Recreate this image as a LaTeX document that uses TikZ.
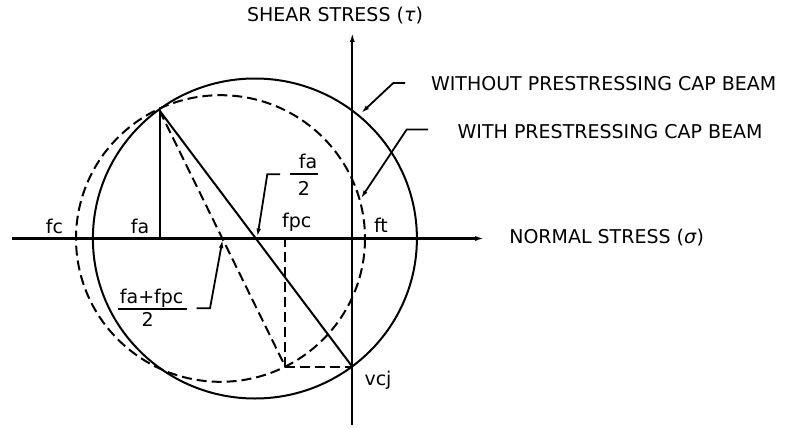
\documentclass[tikz,border=0pt]{standalone}
\usepackage{fontspec}
\setmainfont{DejaVu Sans}
\usetikzlibrary{arrows.meta}
\begin{document}
\begin{tikzpicture}[x=1pt,y=-1pt,
  line width=2pt,
  lbl/.style={font=\fontsize{19}{22}\selectfont, inner sep=0pt, anchor=base},
  lblw/.style={lbl, anchor=base west},
  dsh/.style={dash pattern=on 10pt off 5pt},
  lead/.style={line width=1.8pt, -{Latex[length=9pt,width=4.5pt]}},
  axis/.style={line width=2.1pt, -{Latex[length=10pt,width=5pt]}},
  bar/.style={line width=1.8pt}
]
\useasboundingbox (0,0) rectangle (786,428);
\fill[white] (0,0) rectangle (786,428);

% key points
\coordinate (xl) at (12,238.5);
\coordinate (xr) at (485,238.5);
\coordinate (yb) at (352.3,425);
\coordinate (yt) at (352.3,32);
\coordinate (A) at (159.5,110.5);
\coordinate (V) at (352.3,366.7);
\coordinate (B) at (285.3,366.7);
\coordinate (Afoot) at (159.5,238.5);
\coordinate (Bfoot) at (285.3,238.5);
\coordinate (C1) at (254.9,238.5);
\coordinate (C2) at (220.5,238.5);

% axes
\draw[axis] (xl) -- (xr);
\draw[axis] (yb) -- (yt);

% circles
\draw (C1) ellipse [x radius=162, y radius=160];
\draw[dsh] (C2) ellipse [x radius=144.5, y radius=143.3];

% construction lines
\draw (A) -- (V);
\draw (A) -- (Afoot);
\draw[dsh] (A) -- (B);
\draw[dsh] (B) -- (Bfoot);
\draw[dsh] (B) -- (V);

% axis labels
\node[lbl] (shear) at (335,21.7) {SHEAR STRESS (\textit{τ})};
\node[lblw] (normal) at (508.3,243.3) {NORMAL STRESS (\textit{σ})};

% legend texts
\node[lblw] (without) at (430,90.2) {WITHOUT PRESTRESSING CAP BEAM};
\node[lblw] (with) at (456.7,138.6) {WITH PRESTRESSING CAP BEAM};

% point labels
\node[lbl] (fc) at (54.5,233) {fc};
\node[lbl] (fa) at (140,233) {fa};
\node[lbl] (fpc) at (296.7,227.5) {fpc};
\node[lbl] (ft) at (381,232) {ft};
\node[lbl] (vcj) at (378,385) {vcj};

% fraction fa/2
\node[lbl] (fanum) at (308,168.5) {fa};
\node[lbl] (faden) at (304,195) {2};
\coordinate (fabarl) at (290,174.3);
\coordinate (fabarr) at (318.3,174.3);
\draw[bar] (fabarl) -- (fabarr);

% fraction (fa+fpc)/2
\node[lbl] (sumnum) at (151.7,303.3) {fa+fpc};
\node[lbl] (sumden) at (147.7,326.7) {2};
\coordinate (sumbarl) at (118,309);
\coordinate (sumbarr) at (187,309);
\draw[bar] (sumbarl) -- (sumbarr);

% leaders
\coordinate (l1a) at (280,174.3);
\coordinate (l1b) at (267.3,174.3);
\coordinate (l1t) at (257.3,237.5);
\draw[lead] (l1a) -- (l1b) -- (l1t);

\coordinate (l2a) at (196.7,308.3);
\coordinate (l2b) at (210,308.3);
\coordinate (l2t) at (222.7,239);
\draw[lead] (l2a) -- (l2b) -- (l2t);

\coordinate (l3a) at (405,83);
\coordinate (l3b) at (393.3,83);
\coordinate (l3t) at (360.7,113.5);
\draw[lead] (l3a) -- (l3b) -- (l3t);

\coordinate (l4a) at (428,129.5);
\coordinate (l4b) at (406.7,129.5);
\coordinate (l4t) at (360.5,199);
\draw[lead] (l4a) -- (l4b) -- (l4t);
\end{tikzpicture}
\end{document}
